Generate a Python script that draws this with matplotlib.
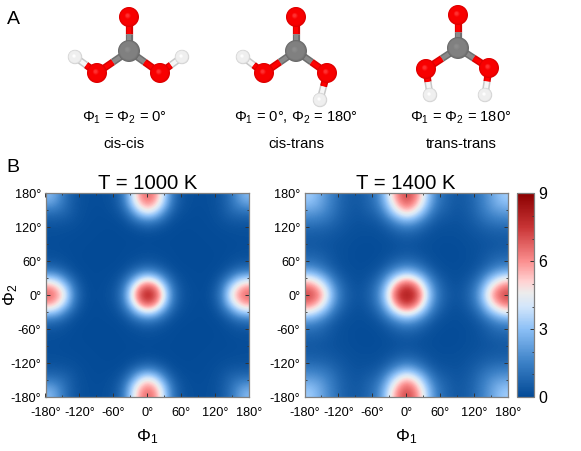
import numpy as np
import matplotlib
matplotlib.use("Agg")
import matplotlib.pyplot as plt
from matplotlib.colors import LinearSegmentedColormap
from matplotlib.patches import Circle

plt.rcParams['font.family'] = ['Liberation Sans', 'DejaVu Sans']
plt.rcParams['mathtext.fontset'] = 'custom'
plt.rcParams['mathtext.rm'] = 'Liberation Sans'
plt.rcParams['mathtext.it'] = 'Liberation Sans'
plt.rcParams['mathtext.default'] = 'regular'

# density on a 15 degree grid, phi = 0..180 (quadrant, the map is mirrored)
phi_quad = [0, 15, 30, 45, 60, 75, 90, 105, 120, 135, 150, 165, 180]

dens_1000 = [
    [8.3, 7.0, 4.5, 1.6, .45, .15, .07, .07, .4, 1.5, 4.0, 5.9, 6.7],
    [7.0, 6.1, 3.7, 1.3, .35, .12, .06, .06, .3, 1.2, 3.3, 5.0, 5.9],
    [4.5, 3.7, 2.0, .7, .2, .08, .04, .04, .15, .65, 1.7, 3.1, 3.7],
    [1.6, 1.3, .7, .25, .08, .04, .03, .03, .07, .2, .6, 1.1, 1.4],
    [.45, .35, .2, .08, .03, .02, .02, .02, .03, .08, .2, .35, .42],
    [.15, .12, .08, .04, .02, .02, .02, .02, .03, .05, .1, .15, .17],
    [.07, .06, .04, .03, .02, .02, .02, .03, .04, .05, .07, .1, .12],
    [.07, .06, .04, .03, .02, .02, .03, .04, .05, .07, .09, .12, .13],
    [.4, .3, .15, .07, .03, .03, .04, .05, .08, .12, .16, .18, .18],
    [1.5, 1.2, .65, .2, .08, .05, .05, .07, .12, .22, .35, .42, .45],
    [4.0, 3.3, 1.7, .6, .2, .1, .07, .09, .16, .35, .7, .9, 1.0],
    [5.9, 5.0, 3.1, 1.1, .35, .15, .1, .12, .18, .42, .9, 1.6, 2.0],
    [6.7, 5.9, 3.7, 1.4, .42, .17, .12, .13, .18, .45, 1.0, 2.0, 2.8],
]

dens_1400 = [
    [8.4, 7.6, 5.3, 2.7, 1.1, .5, .3, .5, 1.1, 2.6, 4.8, 6.5, 7.3],
    [7.6, 6.7, 4.6, 2.3, .95, .42, .25, .42, .95, 2.2, 4.1, 5.6, 6.4],
    [5.3, 4.6, 3.1, 1.5, .6, .28, .18, .28, .6, 1.4, 2.8, 3.9, 4.6],
    [2.7, 2.3, 1.5, .7, .28, .15, .12, .18, .32, .7, 1.4, 2.1, 2.5],
    [1.1, .95, .6, .28, .14, .1, .1, .12, .2, .38, .7, 1.05, 1.2],
    [.5, .42, .28, .15, .1, .08, .09, .12, .18, .3, .5, .65, .72],
    [.3, .25, .18, .12, .1, .09, .1, .13, .18, .25, .33, .42, .45],
    [.5, .42, .28, .18, .12, .12, .13, .17, .24, .33, .42, .48, .5],
    [1.1, .95, .6, .32, .2, .18, .18, .24, .35, .5, .65, .72, .75],
    [2.6, 2.2, 1.4, .7, .38, .3, .25, .33, .5, .8, 1.1, 1.3, 1.4],
    [4.8, 4.1, 2.8, 1.4, .7, .5, .33, .42, .65, 1.1, 1.6, 1.9, 2.0],
    [6.5, 5.6, 3.9, 2.1, 1.05, .65, .42, .48, .72, 1.3, 1.9, 2.5, 2.8],
    [7.3, 6.4, 4.6, 2.5, 1.2, .72, .45, .5, .75, 1.4, 2.0, 2.8, 3.3],
]

angle_ticks = [-180, -120, -60, 0, 60, 120, 180]
angle_minor = [-150, -90, -30, 30, 90, 150]
cbar_ticks = [0, 3, 6, 9]
titles = ["T = 1000 K", "T = 1400 K"]

# molecule geometry in picture pixels: O top, C, O left, O right, H left, H right
mol_cc = [(129, 17), (129, 51), (97, 73), (160, 73), (75, 57), (182, 57)]
mol_ct = [(296, 17), (296, 51), (264, 73), (327, 73), (243, 57), (320, 100)]
mol_tt = [(458, 15), (458, 48), (426, 69), (489, 68), (430, 95), (485, 95)]
mol_labels = [
    (124, r"$\Phi_1$ = $\Phi_2$ = 0°", "cis-cis", mol_cc),
    (296, r"$\Phi_1$ = 0°, $\Phi_2$ = 180°", "cis-trans", mol_ct),
    (461, r"$\Phi_1$ = $\Phi_2$ = 180°", "trans-trans", mol_tt),
]

cmap = LinearSegmentedColormap.from_list("dens", [
    (0.0, "#034a96"), (1.5 / 9, "#3b80c6"), (3 / 9, "#8cc0f6"), (4 / 9, "#d3e6fb"),
    (4.6 / 9, "#ececec"), (5.1 / 9, "#ffd3d3"), (6 / 9, "#fb8f8f"),
    (7.5 / 9, "#c93536"), (1.0, "#8b0000")])

W, H = 581, 451
GREY = "#808080"


def px_axes(fig, x0, y0, x1, y1):
    return fig.add_axes([x0 / W, 1 - y1 / H, (x1 - x0) / W, (y1 - y0) / H])


def full_map(q):
    q = np.array(q)
    q = np.hstack([q[:, :0:-1], q])
    return np.vstack([q[:0:-1], q])


def fmt_angle(v):
    return "%d°" % v


def draw_map(ax, q, title, ylabel):
    ax.imshow(full_map(q), origin="lower", extent=[-180, 180, -180, 180], cmap=cmap,
              vmin=0, vmax=9, interpolation="bicubic", aspect="auto")
    ax.set_xticks(angle_ticks, [fmt_angle(v) for v in angle_ticks])
    ax.set_yticks(angle_ticks, [fmt_angle(v) for v in angle_ticks])
    ax.set_xticks(angle_minor, minor=True)
    ax.set_yticks(angle_minor, minor=True)
    ax.tick_params(which="major", direction="in", length=3, width=0.7, top=True, right=True,
                   labelsize=9.2, color="#333333")
    ax.tick_params(axis="x", which="major", pad=7)
    ax.tick_params(axis="y", which="major", pad=3)
    ax.tick_params(which="minor", direction="in", length=1.5, width=0.6, top=True, right=True,
                   color="#333333")
    for s in ax.spines.values():
        s.set_color(GREY)
        s.set_linewidth(0.9)
    ax.set_xlabel(r"$\Phi_1$", fontsize=12.5)
    ax.xaxis.set_label_coords(0.5, -(437 - 397) / 203.5, transform=ax.transAxes)
    ax.xaxis.label.set_va("center")
    if ylabel:
        ax.set_ylabel(r"$\Phi_2$", fontsize=12.5)
        ax.yaxis.set_label_coords(-(45.5 - 11) / 203.5, 0.5)
        ax.yaxis.label.set_va("center")
    ax.set_title(title, fontsize=14.6, pad=2)


def ball(ax, xy, r, dark, mid, light):
    # shaded sphere from stacked circles
    c0 = np.array(matplotlib.colors.to_rgb(dark))
    c1 = np.array(matplotlib.colors.to_rgb(mid))
    c2 = np.array(matplotlib.colors.to_rgb(light))
    n = 14
    for i in range(n):
        t = i / (n - 1)
        col = c0 + (c1 - c0) * min(t / 0.2, 1)
        if t > 0.75:
            col = c1 + (c2 - c1) * (t - 0.75) / 0.25
        ax.add_patch(Circle((xy[0] - 0.15 * r * t, xy[1] - 0.15 * r * t), r * (1 - 0.85 * t),
                            fc=col, ec="none", zorder=5))


def bond(ax, a, b, col_a, col_b):
    mx, my = (a[0] + b[0]) / 2, (a[1] + b[1]) / 2
    for p, (edge, core) in ((a, col_a), (b, col_b)):
        ax.plot([p[0], mx], [p[1], my], color=edge, lw=5.2, solid_capstyle="butt", zorder=3)
        ax.plot([p[0], mx], [p[1], my], color=core, lw=3, solid_capstyle="butt", zorder=3.5)


def draw_molecule(ax, m):
    otop, c, ol, or_, hl, hr = m
    red = ("#d80000", "#ff0000")
    gray = ("#6e6e6e", "#8a8a8a")
    white = ("#c8c8c8", "#f6f6f6")
    bond(ax, otop, c, red, gray)
    bond(ax, ol, c, red, gray)
    bond(ax, or_, c, red, gray)
    bond(ax, ol, hl, red, white)
    bond(ax, or_, hr, red, white)
    for p in (otop, ol, or_):
        ball(ax, p, 10, "#dc0000", "#f80000", "#ff3030")
    ball(ax, c, 11, "#6a6a6a", "#808080", "#8c8c8c")
    for p in (hl, hr):
        ball(ax, p, 7.2, "#d0d0d0", "#efefef", "#ffffff")


fig = plt.figure(figsize=(W / 100, H / 100), dpi=100)

ax1 = px_axes(fig, 45.5, 193.5, 249, 397)
ax2 = px_axes(fig, 304.5, 193.5, 508, 397)
cax = px_axes(fig, 516.5, 193.5, 534, 397)

draw_map(ax1, dens_1000, titles[0], True)
draw_map(ax2, dens_1400, titles[1], False)

sm = plt.cm.ScalarMappable(cmap=cmap, norm=plt.Normalize(0, 9))
cb = fig.colorbar(sm, cax=cax, ticks=cbar_ticks)
cb.ax.tick_params(which="major", direction="in", length=3, width=0.7, labelsize=11.5, pad=3,
                  color="#333333")
cb.ax.set_yticks(range(10), minor=True)
cb.ax.tick_params(which="minor", direction="in", length=1.5, width=0.6, color="#333333")
cb.outline.set_edgecolor(GREY)
cb.outline.set_linewidth(0.9)

# overlay in pixel coordinates for panel A and the letters
top = fig.add_axes([0, 0, 1, 1], zorder=-1)
top.set_xlim(0, W)
top.set_ylim(H, 0)
top.axis("off")
top.text(7, 20, "A", fontsize=14, ha="left", va="center")
top.text(6, 168, "B", fontsize=14, ha="left", va="center")
for x, lab, name, mol in mol_labels:
    draw_molecule(top, mol)
    top.text(x, 118, lab, fontsize=10.6, ha="center", va="center")
    top.text(x, 144, name, fontsize=10.6, ha="center", va="center")

fig.savefig("out.png", dpi=100)
